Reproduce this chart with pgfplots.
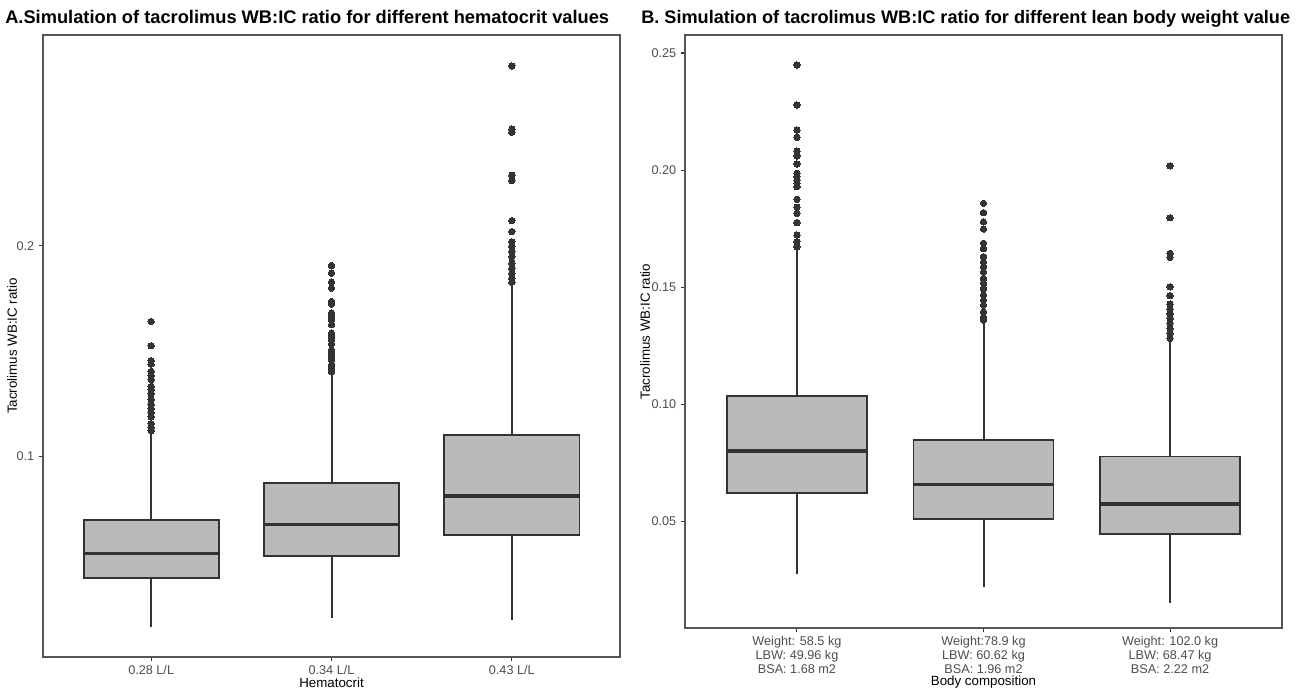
\documentclass[border=0pt]{standalone}
\usepackage{fontspec}
\setmainfont{Liberation Sans}
\usepackage{pgfplots}
\pgfplotsset{compat=1.18}
\usepgfplotslibrary{statistics}

\definecolor{boxfill}{HTML}{BABABA}
\definecolor{edge}{HTML}{333333}
\definecolor{ticktext}{HTML}{4D4D4D}
\definecolor{frame}{HTML}{555555}

\pgfplotsset{
  wbic/.style={
    scale only axis,
    xmin=0.4, xmax=3.6,
    xtick={1,2,3},
    tick align=outside,
    tick pos=left,
    major tick length=3pt,
    every tick/.style={edge, line width=0.8pt},
    axis line style={frame, line width=0.8pt},
    tick label style={font=\fontsize{9.5}{10.2}\selectfont, text=ticktext},
    label style={font=\fontsize{10}{12}\selectfont},
    /pgf/number format/assume math mode=true,
    boxplot/draw direction=y,
    boxplot/box extend=0.75,
    boxplot/whisker extend=0,
    boxplot/every median/.style={draw=edge, line width=2.6pt},
    boxplot/every box/.style={draw=edge, fill=boxfill, line width=1.4pt},
    boxplot/every whisker/.style={draw=edge, line width=1.5pt},
  },
  bx/.style={solid, draw=edge, line width=1.5pt, mark=*, mark size=2.4pt,
    mark options={draw=edge, fill=edge, line width=0pt}},
}

\begin{document}
\begin{tikzpicture}
\path[use as bounding box] (0,0) rectangle (972pt,-517.5pt);

\node[anchor=base west, inner sep=0pt, font=\bfseries\fontsize{13.7}{15}\selectfont] at (3.75pt,-17.25pt)
  {A.Simulation of tacrolimus WB:IC ratio for different hematocrit values};
\node[anchor=base west, inner sep=0pt, font=\bfseries\fontsize{13.6}{15}\selectfont] at (480.75pt,-17.25pt)
  {B. Simulation of tacrolimus WB:IC ratio for different lean body weight value};

% panel A
\begin{axis}[wbic,
  at={(32.25pt,-492.75pt)}, anchor=south west,
  width=432.75pt, height=466.5pt,
  ymin=0.00475, ymax=0.3002,
  ytick={0.1,0.2},
  xticklabels={0.28 L/L, 0.34 L/L, 0.43 L/L},
  xlabel={Hematocrit},
  ylabel={Tacrolimus WB:IC ratio},
  xlabel style={at={(axis description cs:0.5,0)}, anchor=center, yshift=-19.5pt},
  ylabel style={at={(axis description cs:-0.0537,0.5)}, anchor=center, rotate=0},
]
\addplot[bx, boxplot prepared={draw position=1, median=0.054,
  upper quartile=0.0698, lower quartile=0.0422,
  upper whisker=0.111, lower whisker=0.019}]
  table[row sep=\\, y index=0] {v\\ 0.1641\\ 0.1526\\ 0.1455\\ 0.1439\\ 0.1404\\
  0.1384\\ 0.1365\\ 0.1333\\ 0.1318\\ 0.1297\\ 0.1270\\ 0.1246\\ 0.1226\\
  0.1207\\ 0.1188\\ 0.1156\\ 0.1139\\ 0.1123\\};
\addplot[bx, boxplot prepared={draw position=2, median=0.0678,
  upper quartile=0.0875, lower quartile=0.0529,
  upper whisker=0.1390, lower whisker=0.0231}]
  table[row sep=\\, y index=0] {v\\ 0.1907\\ 0.1871\\ 0.1828\\ 0.1800\\ 0.1736\\
  0.1724\\ 0.1681\\ 0.1665\\ 0.1649\\ 0.1626\\ 0.1586\\ 0.1570\\ 0.1555\\
  0.1534\\ 0.1507\\ 0.1492\\ 0.1476\\ 0.1460\\ 0.1436\\ 0.1420\\ 0.1404\\};
\addplot[bx, boxplot prepared={draw position=3, median=0.0812,
  upper quartile=0.1103, lower quartile=0.0629,
  upper whisker=0.181, lower whisker=0.0223}]
  table[row sep=\\, y index=0] {v\\ 0.2855\\ 0.2555\\ 0.2540\\ 0.2336\\ 0.2310\\
  0.2120\\ 0.2068\\ 0.2020\\ 0.1997\\ 0.1973\\ 0.1949\\ 0.1918\\ 0.1894\\
  0.1871\\ 0.1847\\ 0.1828\\};
\end{axis}

% panel B
\begin{axis}[wbic,
  at={(513.75pt,-471pt)}, anchor=south west,
  width=447.75pt, height=444.75pt,
  ymin=0.0043, ymax=0.2577,
  ytick={0.05,0.10,0.15,0.20,0.25},
  yticklabel style={/pgf/number format/.cd, fixed, fixed zerofill, precision=2},
  xticklabel style={align=center},
  xticklabels={{Weight: 58.5 kg\\LBW: 49.96 kg\\BSA: 1.68 m2},
               {Weight:78.9 kg\\LBW: 60.62 kg\\BSA: 1.96 m2},
               {Weight: 102.0 kg\\LBW: 68.47 kg\\BSA: 2.22 m2}},
  xlabel={Body composition},
  ylabel={Tacrolimus WB:IC ratio},
  xlabel style={at={(axis description cs:0.5,0)}, anchor=center, yshift=-40.5pt},
  ylabel style={at={(axis description cs:-0.067,0.5)}, anchor=center, rotate=0},
]
\addplot[bx, boxplot prepared={draw position=1, median=0.080,
  upper quartile=0.1035, lower quartile=0.0621,
  upper whisker=0.1658, lower whisker=0.0274}]
  table[row sep=\\, y index=0] {v\\ 0.2449\\ 0.2278\\ 0.2171\\ 0.2140\\ 0.2081\\
  0.2060\\ 0.2026\\ 0.1986\\ 0.1972\\ 0.1957\\ 0.1943\\ 0.1929\\ 0.1875\\
  0.1841\\ 0.1815\\ 0.1775\\ 0.1722\\ 0.1694\\ 0.1672\\};
\addplot[bx, boxplot prepared={draw position=2, median=0.0656,
  upper quartile=0.0847, lower quartile=0.051,
  upper whisker=0.1345, lower whisker=0.0218}]
  table[row sep=\\, y index=0] {v\\ 0.1858\\ 0.1818\\ 0.1779\\ 0.1748\\ 0.1687\\
  0.1665\\ 0.1630\\ 0.1608\\ 0.1587\\ 0.1565\\ 0.1537\\ 0.1516\\ 0.1494\\
  0.1466\\ 0.1444\\ 0.1423\\ 0.1394\\ 0.1373\\ 0.1359\\};
\addplot[bx, boxplot prepared={draw position=3, median=0.0573,
  upper quartile=0.0776, lower quartile=0.0443,
  upper whisker=0.1271, lower whisker=0.0152}]
  table[row sep=\\, y index=0] {v\\ 0.2018\\ 0.1796\\ 0.1644\\ 0.1627\\ 0.1501\\
  0.1463\\ 0.1427\\ 0.1405\\ 0.1385\\ 0.1366\\ 0.1345\\ 0.1323\\ 0.1302\\
  0.1281\\};
\end{axis}
\end{tikzpicture}
\end{document}
